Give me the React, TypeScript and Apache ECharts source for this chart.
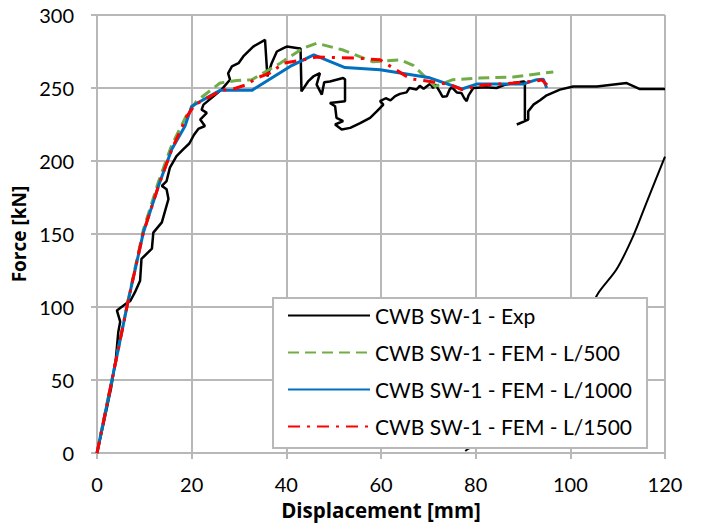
import React, { useEffect, useRef } from "react";
import * as echarts from "echarts";

const xTicks = [0, 20, 40, 60, 80, 100, 120];
const yTicks = [0, 50, 100, 150, 200, 250, 300];

const seriesNames = [
  "CWB SW-1 - Exp",
  "CWB SW-1 - FEM - L/500",
  "CWB SW-1 - FEM - L/1000",
  "CWB SW-1 - FEM - L/1500",
];

const expLoading: [number, number][] = [
  [0, 0], [1.5, 22], [3, 45], [4, 65], [4.5, 83], [4.9, 90], [4.2, 97.7], [5.6, 101],
  [6.6, 103.4], [7, 104], [8, 110], [9.1, 118], [9.4, 133], [11.6, 140], [11.9, 151],
  [13.7, 158], [15.1, 174], [14.7, 180.7], [13.7, 183], [14.7, 186.3], [15.4, 195.5],
  [16.8, 203.4], [18.2, 208], [19.5, 212], [20.5, 218], [21.4, 222], [22.8, 224],
  [21.8, 228.4], [23.2, 233], [22.1, 235.2], [22.5, 238.6], [24.6, 244.3], [26.3, 248.9],
  [28.1, 255.7], [27.7, 260], [28.5, 264.8], [29.9, 267], [30.9, 271.6], [33, 278.4],
  [35.5, 283], [36, 258], [36.9, 267], [38, 275], [39.4, 277.3], [40.1, 278.4],
  [42.5, 277.3], [43, 277], [43.2, 247.7], [44.6, 254.5], [45.7, 257.9], [47.1, 260.2],
  [46.4, 252.3], [47.5, 245.5], [48, 254], [49.2, 254.5], [52, 256.8], [52.4, 256],
  [52.4, 240.9], [49.2, 239.8], [50.3, 237.5], [50.6, 229.6], [52, 227.3], [50.3, 225],
  [51.7, 221.6], [53.5, 222.7], [55.6, 226], [57.7, 229.6], [59.1, 234], [60.5, 238.6],
  [59.8, 241], [61, 243], [62, 241.5], [63, 244.5], [64, 246], [65.4, 247], [66, 250],
  [67.5, 249], [68.2, 251.5], [69, 249.5], [70.4, 253], [71, 250], [71.5, 252.5],
  [72.5, 247], [73, 244], [73.9, 244.3], [74.5, 249], [75, 250.5], [76, 247], [77, 246.6],
  [77.6, 243], [78.1, 241], [78.5, 245], [79.5, 250], [82, 250.5], [84.4, 250], [86, 252],
  [88, 253.4], [90.1, 254.5], [90.4, 254], [90.4, 227.3], [88.7, 225], [91.1, 228.4],
  [91.1, 234], [92.2, 238.6], [93.6, 241.6], [95, 245], [97.8, 248.9], [100.6, 251.1],
  [105.6, 251.1], [111.9, 253.4], [114.7, 249.3], [120, 249.3],
];

const expUnloading: [number, number][] = [
  [77.8, 1.4], [78.8, 3.4], [82.3, 4.5], [85.1, 10.2], [90, 25], [95, 45], [100, 70],
  [103, 88], [105.6, 108], [109.8, 126], [113.3, 148.8], [116.1, 171.6], [120, 203],
];

const femL500: [number, number][] = [
  [0, 0], [6.6, 105], [9.8, 153], [13, 186], [15.8, 211], [19, 231.8], [21, 240.9],
  [26, 253.4], [29.5, 255.2], [32.7, 255.7], [38.7, 267], [43.6, 277.3], [46.4, 280.7],
  [52, 276], [58.3, 268], [64, 269.3], [66.8, 265.5], [71.4, 251.1], [75.2, 255.7],
  [80.9, 256.8], [88, 257.6], [92.9, 259.6], [96.4, 261],
];

const femL1000: [number, number][] = [
  [0, 0], [6.6, 104.5], [9.8, 151.1], [13, 183], [15.8, 208], [18.6, 224], [20, 237.5],
  [26, 248.4], [32.7, 248.4], [40.8, 264.8], [45.8, 272.7], [52.4, 264], [59.8, 262.5],
  [70.3, 257], [77.1, 249.3], [80.2, 252.7], [90, 252.7], [92.9, 255.7], [94.3, 256],
  [95, 250],
];

const femL1500: [number, number][] = [
  [0, 0], [6.6, 104.5], [9.8, 151.1], [13, 183], [15.8, 208], [19, 230.7], [20.7, 238.6],
  [24.6, 245.4], [26, 248.4], [28.8, 249.3], [31.6, 252.3], [33.7, 256.8], [36.5, 260.2],
  [39.4, 267], [43.6, 269.3], [46.4, 271.2], [54.9, 270.5], [59.8, 269.3], [63.7, 261.4],
  [66.1, 256.4], [70.4, 254.5], [74.6, 252.3], [77.1, 248.9], [80.9, 251.8], [87.9, 253.4],
  [91.8, 254.5], [94, 255.5], [95.4, 251.1],
];

const FONT = "Lato";
const TITLE_FONT = "Open Sans";
const GRID = "#b8b8b8";

export default function App() {
  const ref = useRef<HTMLDivElement>(null);
  useEffect(() => {
    if (!ref.current) return;
    const chart = echarts.init(ref.current, undefined, { renderer: "svg" });
    chart.setOption({
      animation: false,
      backgroundColor: "#fff",
      textStyle: { fontFamily: FONT },
      grid: { left: 97, right: 36, top: 15, bottom: 70, containLabel: false },
      xAxis: {
        type: "value",
        min: xTicks[0],
        max: xTicks[xTicks.length - 1],
        interval: 20,
        name: "Displacement [mm]",
        nameLocation: "middle",
        nameGap: 44,
        nameTextStyle: { fontFamily: TITLE_FONT, fontWeight: "bold", fontSize: 20.5, color: "#000" },
        axisLine: { show: true, lineStyle: { color: GRID, width: 2 } },
        axisTick: { show: true, length: 6, lineStyle: { color: GRID, width: 2 } },
        axisLabel: { fontFamily: FONT, fontSize: 20, color: "#000", margin: 21 },
        splitLine: { show: true, lineStyle: { color: GRID, width: 2 } },
      },
      yAxis: {
        type: "value",
        min: yTicks[0],
        max: yTicks[yTicks.length - 1],
        interval: 50,
        name: "Force [kN]",
        nameLocation: "middle",
        nameGap: 61,
        nameTextStyle: { fontFamily: TITLE_FONT, fontWeight: "bold", fontSize: 19, color: "#000" },
        axisLine: { show: true, lineStyle: { color: GRID, width: 2 } },
        axisTick: { show: true, length: 6, lineStyle: { color: GRID, width: 2 } },
        axisLabel: { fontFamily: FONT, fontSize: 20, color: "#000", margin: 23 },
        splitLine: { show: true, lineStyle: { color: GRID, width: 2 } },
      },
      legend: {
        data: seriesNames,
        orient: "vertical",
        left: 273,
        top: 298,
        padding: [7, 15, 11, 14],
        itemWidth: 82,
        itemHeight: 14,
        itemGap: 16,
        backgroundColor: "#fff",
        borderColor: GRID,
        borderWidth: 2,
        itemStyle: { opacity: 0 },
        textStyle: { fontFamily: FONT, fontSize: 21, color: "#000", lineHeight: 20 },
      },
      series: [
        {
          name: seriesNames[0],
          type: "line",
          data: expLoading,
          showSymbol: false,
          symbol: "none",
          lineStyle: { color: "#000", width: 2.5 },
          itemStyle: { color: "#000" },
        },
        {
          name: seriesNames[0],
          type: "line",
          data: expUnloading,
          showSymbol: false,
          symbol: "none",
          smooth: 0.3,
          lineStyle: { color: "#000", width: 2 },
          itemStyle: { color: "#000" },
        },
        {
          name: seriesNames[1],
          type: "line",
          data: femL500,
          showSymbol: false,
          symbol: "none",
          lineStyle: { color: "#70ad47", width: 3, type: [11, 6] },
          itemStyle: { color: "#70ad47" },
        },
        {
          name: seriesNames[2],
          type: "line",
          data: femL1000,
          showSymbol: false,
          symbol: "none",
          lineStyle: { color: "#0070c0", width: 3 },
          itemStyle: { color: "#0070c0" },
        },
        {
          name: seriesNames[3],
          type: "line",
          data: femL1500,
          showSymbol: false,
          symbol: "none",
          lineStyle: { color: "#ff0000", width: 3, type: [12, 7, 3, 7] },
          itemStyle: { color: "#ff0000" },
        },
      ],
    });
    return () => chart.dispose();
  }, []);
  return (
    <div
      ref={ref}
      style={{ position: "fixed", left: 0, top: 0, width: 701, height: 525, background: "#fff" }}
    />
  );
}
